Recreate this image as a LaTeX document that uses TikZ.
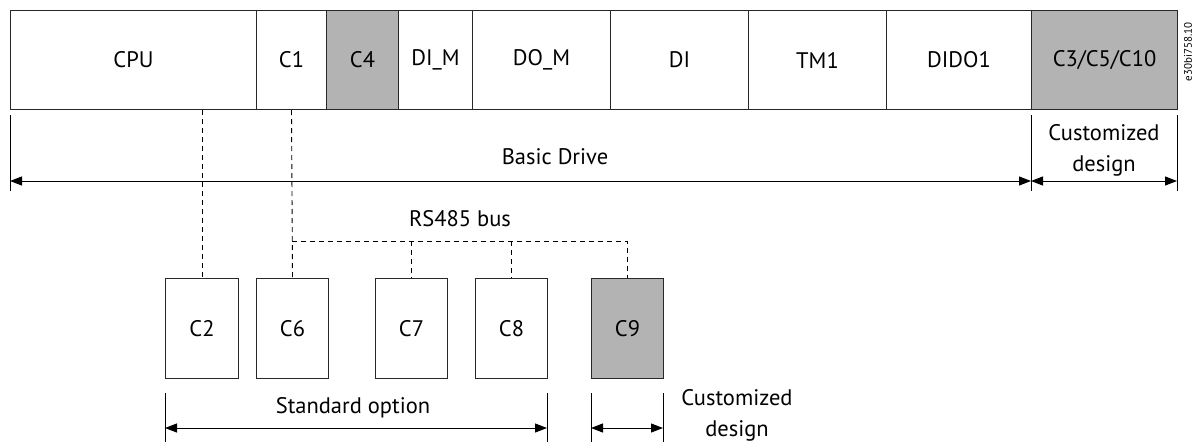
\documentclass[tikz,border=0pt]{standalone}
\usepackage{fontspec}
\setmainfont{PT Sans}
\usetikzlibrary{arrows.meta}
\definecolor{boxgray}{RGB}{179,179,179}
\definecolor{edge}{RGB}{40,40,40}
\tikzset{
  box/.style={draw=edge, line width=1pt, inner sep=0pt, anchor=north west, minimum height=99pt, font=\fontsize{22.5}{30}\selectfont},
  sbox/.style={draw=edge, line width=1pt, inner sep=0pt, anchor=north west, minimum height=100pt, minimum width=72pt, font=\fontsize{22.5}{30}\selectfont},
  shaded/.style={fill=boxgray},
  dline/.style={line width=0.9pt, dash pattern=on 5pt off 4pt},
  tick/.style={line width=1pt},
  dim/.style={line width=1pt, {Triangle[length=12pt,width=9pt]}-{Triangle[length=12pt,width=9pt]}},
  lbl/.style={font=\fontsize{22.5}{31}\selectfont, align=center, inner sep=0pt}
}
\begin{document}
\begin{tikzpicture}[x=1pt,y=-1pt]
\useasboundingbox (0,0) rectangle (1193,442);
% top bar
\node[box, minimum width=246pt] (CPU) at (10,10) {CPU};
\node[box, minimum width=70pt] (C1) at (256,10) {C1};
\node[box, shaded, minimum width=72pt] (C4) at (326,10) {C4};
\node[box, minimum width=74pt] (DIM) at (398,10) {DI\_M};
\node[box, minimum width=138pt] (DOM) at (472,10) {DO\_M};
\node[box, minimum width=138pt] (DI) at (610,10) {DI};
\node[box, minimum width=138pt] (TM1) at (748,10) {TM1};
\node[box, minimum width=145pt] (DIDO1) at (886,10) {DIDO1};
\node[box, shaded, minimum width=146pt] (C3) at (1031,10) {C3/C5/C10};
\node[rotate=90, font=\fontsize{11}{13}\selectfont, inner sep=0pt] (code) at (1188,52) {e30bi758.10};
% dimension ticks top
\coordinate (t1a) at (10,115); \coordinate (t1b) at (10,191);
\coordinate (t2a) at (1031,115); \coordinate (t2b) at (1031,191);
\coordinate (t3a) at (1177,115); \coordinate (t3b) at (1177,191);
\draw[tick] (t1a) -- (t1b);
\draw[tick] (t2a) -- (t2b);
\draw[tick] (t3a) -- (t3b);
\coordinate (a1) at (10,181); \coordinate (a2) at (1031,181); \coordinate (a3) at (1177,181);
\draw[dim] (a1) -- (a2);
\draw[dim] (a2) -- (a3);
\node[lbl] (basic) at (555,157) {Basic Drive};
\node[lbl] (cust1) at (1104,150) {Customized\\design};
% bottom boxes
\node[sbox, minimum width=73pt] (C2) at (165,278) {C2};
\node[sbox] (C6) at (256,278) {C6};
\node[sbox] (C7) at (375,278) {C7};
\node[sbox] (C8) at (475,278) {C8};
\node[sbox, shaded] (C9) at (591,278) {C9};
% connectors
\draw[dline] (C2.north |- CPU.south) -- (C2.north);
\draw[dline] (C1.south) -- (C6.north);
\coordinate (busL) at (292,241);
\draw[dline] (busL) -- (C9.north |- busL) -- (C9.north);
\draw[dline] (C7.north |- busL) -- (C7.north);
\draw[dline] (C8.north |- busL) -- (C8.north);
\node[lbl] (rs) at (460,219) {RS485 bus};
% bottom dimensions
\coordinate (b1a) at (165,393); \coordinate (b1b) at (165,442);
\coordinate (b2a) at (547,393); \coordinate (b2b) at (547,442);
\coordinate (b3a) at (591,393); \coordinate (b3b) at (591,442);
\coordinate (b4a) at (663,393); \coordinate (b4b) at (663,442);
\draw[tick] (b1a) -- (b1b);
\draw[tick] (b2a) -- (b2b);
\draw[tick] (b3a) -- (b3b);
\draw[tick] (b4a) -- (b4b);
\coordinate (s1) at (165,428); \coordinate (s2) at (547,428);
\coordinate (s3) at (591,428); \coordinate (s4) at (663,428);
\draw[dim] (s1) -- (s2);
\draw[dim] (s3) -- (s4);
\node[lbl] (std) at (353,408) {Standard option};
\node[lbl] (cust2) at (737,415) {Customized\\design};
\end{tikzpicture}
\end{document}
